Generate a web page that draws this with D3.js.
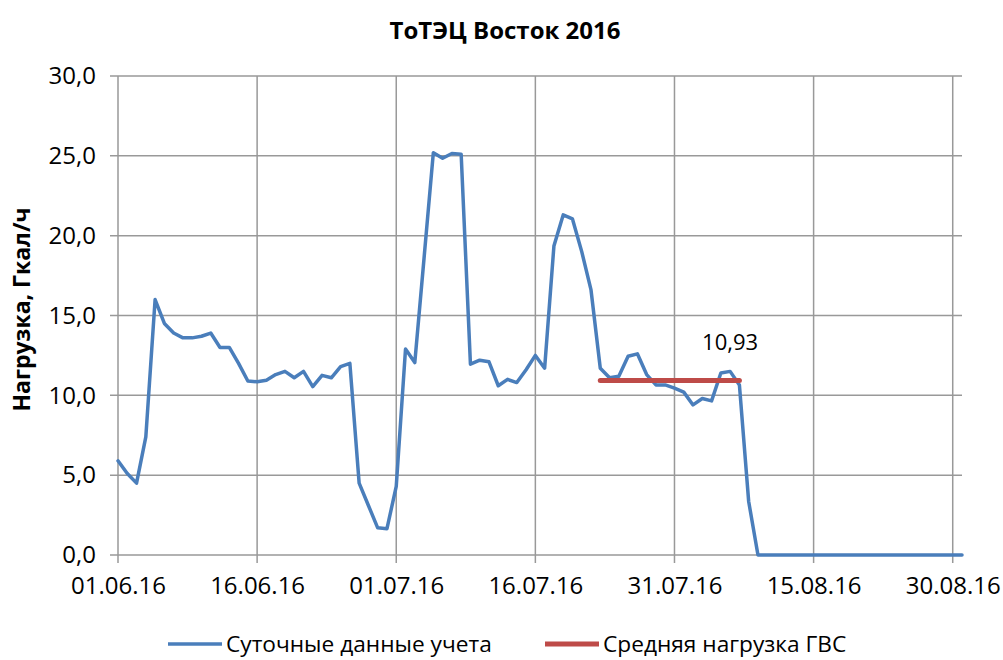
<!DOCTYPE html>
<html>
<head>
<meta charset="utf-8">
<script src="https://cdn.jsdelivr.net/npm/d3@7"></script>
<style>
  body { margin: 0; background: #fff; }
  text { font-family: "Open Sans", "Noto Sans", sans-serif; fill: #000; }
</style>
</head>
<body>
<div class="chart"></div>
<script>
// data
var startDate = "01.06.16";
var dailyLoad = [
  5.9, 5.1, 4.5, 7.4, 16.0, 14.5, 13.9, 13.6, 13.6, 13.7,
  13.9, 13.0, 13.0, 12.0, 10.9, 10.85, 10.95, 11.3, 11.5, 11.1,
  11.5, 10.55, 11.25, 11.1, 11.8, 12.0, 4.5, 3.1, 1.7, 1.65,
  4.3, 12.9, 12.05, 18.6, 25.2, 24.85, 25.15, 25.1, 11.95, 12.2,
  12.1, 10.6, 11.0, 10.8, 11.6, 12.5, 11.7, 19.35, 21.3, 21.05,
  19.0, 16.6, 11.7, 11.1, 11.2, 12.45, 12.6, 11.3, 10.65, 10.65,
  10.45, 10.2, 9.4, 9.8, 9.65, 11.4, 11.5, 10.65, 3.35, 0,
  0, 0, 0, 0, 0, 0, 0, 0, 0, 0,
  0, 0, 0, 0, 0, 0, 0, 0, 0, 0,
  0, 0
];
var avgDates = ["23.07.16", "07.08.16"];
var avgLoad = [10.93, 10.93];
var avgLabelDate = "06.08.16";
var xTickLabels = ["01.06.16", "16.06.16", "01.07.16", "16.07.16", "31.07.16", "15.08.16", "30.08.16"];
var yTicks = [0, 5, 10, 15, 20, 25, 30];
var seriesNames = ["Суточные данные учета", "Средняя нагрузка ГВС"];

var parseDate = d3.timeParse("%d.%m.%y");
var svgWidth = 1003;
var svgHeight = 660;
var margin = { top: 76, bottom: 105, right: 41, left: 118 };
var width = svgWidth - margin.left - margin.right;
var height = svgHeight - margin.top - margin.bottom;

var blue = "#4a7ebb";
var red = "#be4b48";
var gridColor = "#999999";

var d0 = parseDate(startDate);
var daily = dailyLoad.map(function (v, i) {
  return { date: d3.timeDay.offset(d0, i), value: v };
});
var avg = avgDates.map(function (d, i) {
  return { date: parseDate(d), value: avgLoad[i] };
});

var svg = d3.select(".chart")
  .append("svg")
  .attr("width", svgWidth)
  .attr("height", svgHeight);

var chartGroup = svg.append("g")
  .attr("transform", `translate(${margin.left}, ${margin.top})`);

var xScale = d3.scaleTime()
  .domain([d0, daily[daily.length - 1].date])
  .range([0, width]);

var yScale = d3.scaleLinear()
  .domain([0, 30])
  .range([height, 0]);

var fmt = function (v) { return d3.format(".1f")(v).replace(".", ","); };

// gridlines
chartGroup.append("g")
  .selectAll("line")
  .data(yTicks)
  .enter()
  .append("line")
  .attr("x1", -8)
  .attr("x2", width)
  .attr("y1", d => yScale(d))
  .attr("y2", d => yScale(d))
  .attr("stroke", gridColor)
  .attr("stroke-width", 1.5);

var xTickDates = xTickLabels.map(parseDate);
chartGroup.append("g")
  .selectAll("line")
  .data(xTickDates)
  .enter()
  .append("line")
  .attr("x1", d => xScale(d))
  .attr("x2", d => xScale(d))
  .attr("y1", 0)
  .attr("y2", height + 8)
  .attr("stroke", gridColor)
  .attr("stroke-width", 1.5);

// axes
var yAxis = d3.axisLeft(yScale)
  .tickValues(yTicks)
  .tickFormat(fmt)
  .tickSize(0)
  .tickPadding(22);
chartGroup.append("g")
  .call(yAxis)
  .call(g => g.select(".domain").remove())
  .selectAll("text")
  .attr("font-size", 24)
  .attr("font-family", "Open Sans");

var xAxis = d3.axisBottom(xScale)
  .tickValues(xTickDates)
  .tickFormat(d3.timeFormat("%d.%m.%y"))
  .tickSize(0)
  .tickPadding(22);
chartGroup.append("g")
  .attr("transform", `translate(0, ${height})`)
  .call(xAxis)
  .call(g => g.select(".domain").remove())
  .selectAll("text")
  .attr("font-size", 24)
  .attr("font-family", "Open Sans");

// lines
var line = d3.line()
  .x(d => xScale(d.date))
  .y(d => yScale(d.value));

chartGroup.append("path")
  .datum(daily)
  .attr("d", line)
  .attr("fill", "none")
  .attr("stroke", blue)
  .attr("stroke-width", 3.5)
  .attr("stroke-linejoin", "round")
  .attr("stroke-linecap", "round");

chartGroup.append("path")
  .datum(avg)
  .attr("d", line)
  .attr("fill", "none")
  .attr("stroke", red)
  .attr("stroke-width", 5)
  .attr("stroke-linecap", "round");

chartGroup.append("text")
  .attr("x", xScale(parseDate(avgLabelDate)))
  .attr("y", yScale(avgLoad[0]) - 30)
  .attr("text-anchor", "middle")
  .attr("font-size", 22)
  .text(d3.format(".2f")(avgLoad[0]).replace(".", ","));

// title
svg.append("text")
  .attr("x", 505)
  .attr("y", 39)
  .attr("text-anchor", "middle")
  .attr("font-size", 24)
  .attr("font-weight", "bold")
  .text("ТоТЭЦ Восток 2016");

svg.append("text")
  .attr("transform", `translate(30, ${margin.top + height / 2 - 6}) rotate(-90)`)
  .attr("text-anchor", "middle")
  .attr("font-size", 23)
  .attr("font-weight", "bold")
  .text("Нагрузка, Гкал/ч");

// legend
var legend = svg.append("g").attr("transform", "translate(0, 644)");
var legendItems = [
  { name: seriesNames[0], color: blue, x: 168 },
  { name: seriesNames[1], color: red, x: 545 }
];
legendItems.forEach(function (item) {
  legend.append("line")
    .attr("x1", item.x)
    .attr("x2", item.x + 54)
    .attr("y1", 0)
    .attr("y2", 0)
    .attr("stroke", item.color)
    .attr("stroke-width", item.color === red ? 5 : 3.5);
  legend.append("text")
    .attr("x", item.x + 58)
    .attr("y", 8)
    .attr("font-size", 22.7)
    .text(item.name);
});
</script>
</body>
</html>
